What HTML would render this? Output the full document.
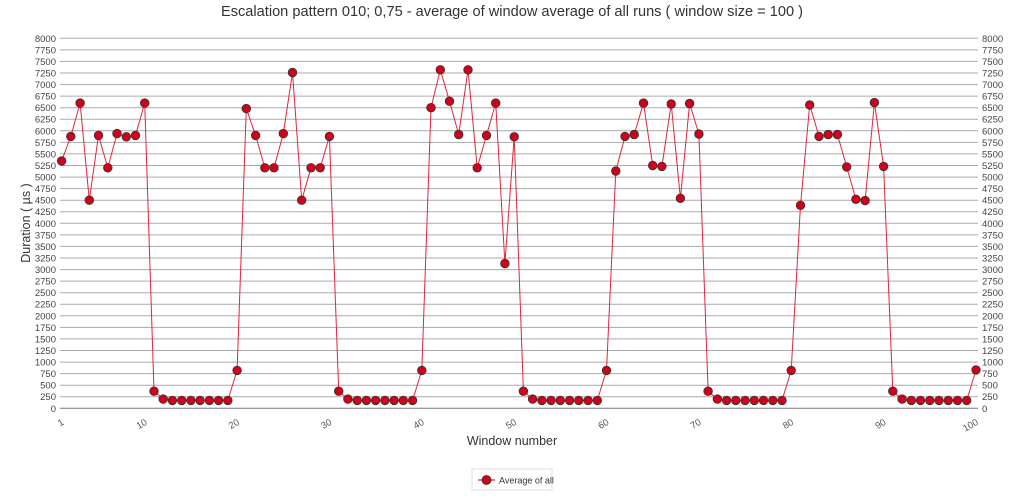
<!DOCTYPE html>
<html><head><meta charset="utf-8"><style>
body{margin:0;background:#fff;width:1024px;height:493px;overflow:hidden;font-family:"Liberation Sans",sans-serif}
</style></head><body>
<svg id="s" width="1024" height="493" xmlns="http://www.w3.org/2000/svg" font-family="Liberation Sans, sans-serif">
<text x="512" y="16" text-anchor="middle" font-size="14.6" fill="#333">Escalation pattern 010; 0,75 - average of window average of all runs ( window size = 100 )</text>
<text x="512" y="445" text-anchor="middle" font-size="12.5" fill="#333">Window number</text>
<text transform="translate(30,223) rotate(-90)" text-anchor="middle" font-size="12.5" fill="#333">Duration ( µs )</text>
<rect x="472" y="469" width="80" height="21" fill="#fff" stroke="#ddd"/>
<line x1="478" y1="480" x2="495" y2="480" stroke="#e0263c" stroke-width="1.2"/>
<circle cx="486.5" cy="480" r="4.5" fill="#d0021b" stroke="#333" stroke-width="0.8"/>
<text x="499" y="483.5" font-size="9" fill="#333">Average of all</text>
<g id="g"></g>
</svg>
<script>
var d=[5350,5880,6600,4500,5900,5200,5940,5870,5900,6600,370,200,170,170,170,170,170,170,170,820,
6480,5900,5200,5200,5940,7260,4500,5200,5200,5880,370,200,170,170,170,170,170,170,170,820,
6500,7320,6640,5920,7320,5200,5900,6600,3130,5870,370,200,170,170,170,170,170,170,170,820,
5130,5880,5920,6600,5250,5230,6580,4540,6590,5930,370,200,170,170,170,170,170,170,170,820,
4390,6560,5880,5920,5920,5220,4520,4490,6610,5230,370,200,170,170,170,170,170,170,170,830];
var g=document.getElementById('g'),h='';
function Y(v){return 408.3-v/8000*370}
function X(i){return 61.6+(i-1)*9.236}
for(var v=0;v<=8000;v+=250){var y=Y(v).toFixed(1);
h+='<line x1="60" x2="978" y1="'+y+'" y2="'+y+'" stroke="'+(v==0?'#777':'#aaa')+'" stroke-width="1"/>';
h+='<text x="56" y="'+(+y+3.5)+'" text-anchor="end" font-size="9.5" fill="#444">'+v+'</text>';
h+='<text x="982" y="'+(+y+3.5)+'" font-size="9.5" fill="#444">'+v+'</text>';}
var t=[1,10,20,30,40,50,60,70,80,90,100];
t.forEach(function(i){h+='<text transform="translate('+(X(i)+3)+',424) rotate(-30)" text-anchor="end" font-size="9.5" fill="#555">'+i+'</text>';});
var p=d.map(function(v,i){return X(i+1).toFixed(1)+','+Y(v).toFixed(1)}).join(' ');
h+='<polyline points="'+p+'" fill="none" stroke="#e0263c" stroke-width="1"/>';
d.forEach(function(v,i){h+='<circle cx="'+X(i+1).toFixed(1)+'" cy="'+Y(v).toFixed(1)+'" r="4.3" fill="#d0021b" stroke="#333" stroke-width="0.8"/>';});
g.innerHTML=h;
</script>
</body></html>
